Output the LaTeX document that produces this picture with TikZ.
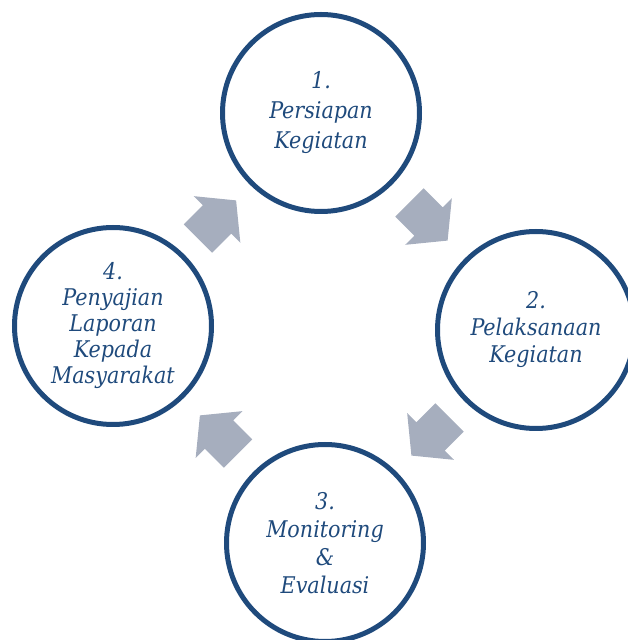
\documentclass[tikz,border=0pt]{standalone}
\usepackage{fontspec}
\setmainfont{DejaVu Serif Condensed}
\usetikzlibrary{calc}
\definecolor{darkblue}{HTML}{1F4A7C}
\definecolor{arrowgray}{HTML}{A6AEBE}

\begin{document}
\begin{tikzpicture}[x=1pt,y=1pt,
    stagecircle/.style={circle, draw=darkblue, line width=5pt, minimum size=197pt,
        inner sep=0pt, align=center, text=darkblue,
        font=\fontsize{23}{28}\selectfont\itshape},
    pics/blockarrow/.style={code={
        \fill[arrowgray] (-27,-20) -- (0,-20) -- (0,-33) -- (27,0) -- (0,33) -- (0,20) -- (-27,20) -- cycle;
    }}]

    \useasboundingbox (0,0) rectangle (627,640);

    % the four stages
    \node[stagecircle, font=\fontsize{23}{30}\selectfont\itshape] (top) at (321,527)
        {1.\\Persiapan\\Kegiatan};
    \node[stagecircle, font=\fontsize{23}{27}\selectfont\itshape] (right) at (536,310)
        {2.\\Pelaksanaan\\Kegiatan};
    \node[stagecircle] (bottom) at (325,97) {3.\\Monitoring\\\&\\Evaluasi};
    \node[stagecircle, font=\fontsize{23}{26}\selectfont\itshape] (left) at (113,314)
        {4.\\Penyajian\\Laporan\\Kepada\\Masyarakat};

    % arrows between the stages
    \pic[rotate=-45] at ($(top)!0.5!(right)$) {blockarrow};
    \pic[rotate=-135] at ($(right)!0.5!(bottom)$) {blockarrow};
    \pic[rotate=135] at ($(bottom)!0.5!(left)$) {blockarrow};
    \pic[rotate=45] at ($(left)!0.5!(top)$) {blockarrow};
\end{tikzpicture}
\end{document}
